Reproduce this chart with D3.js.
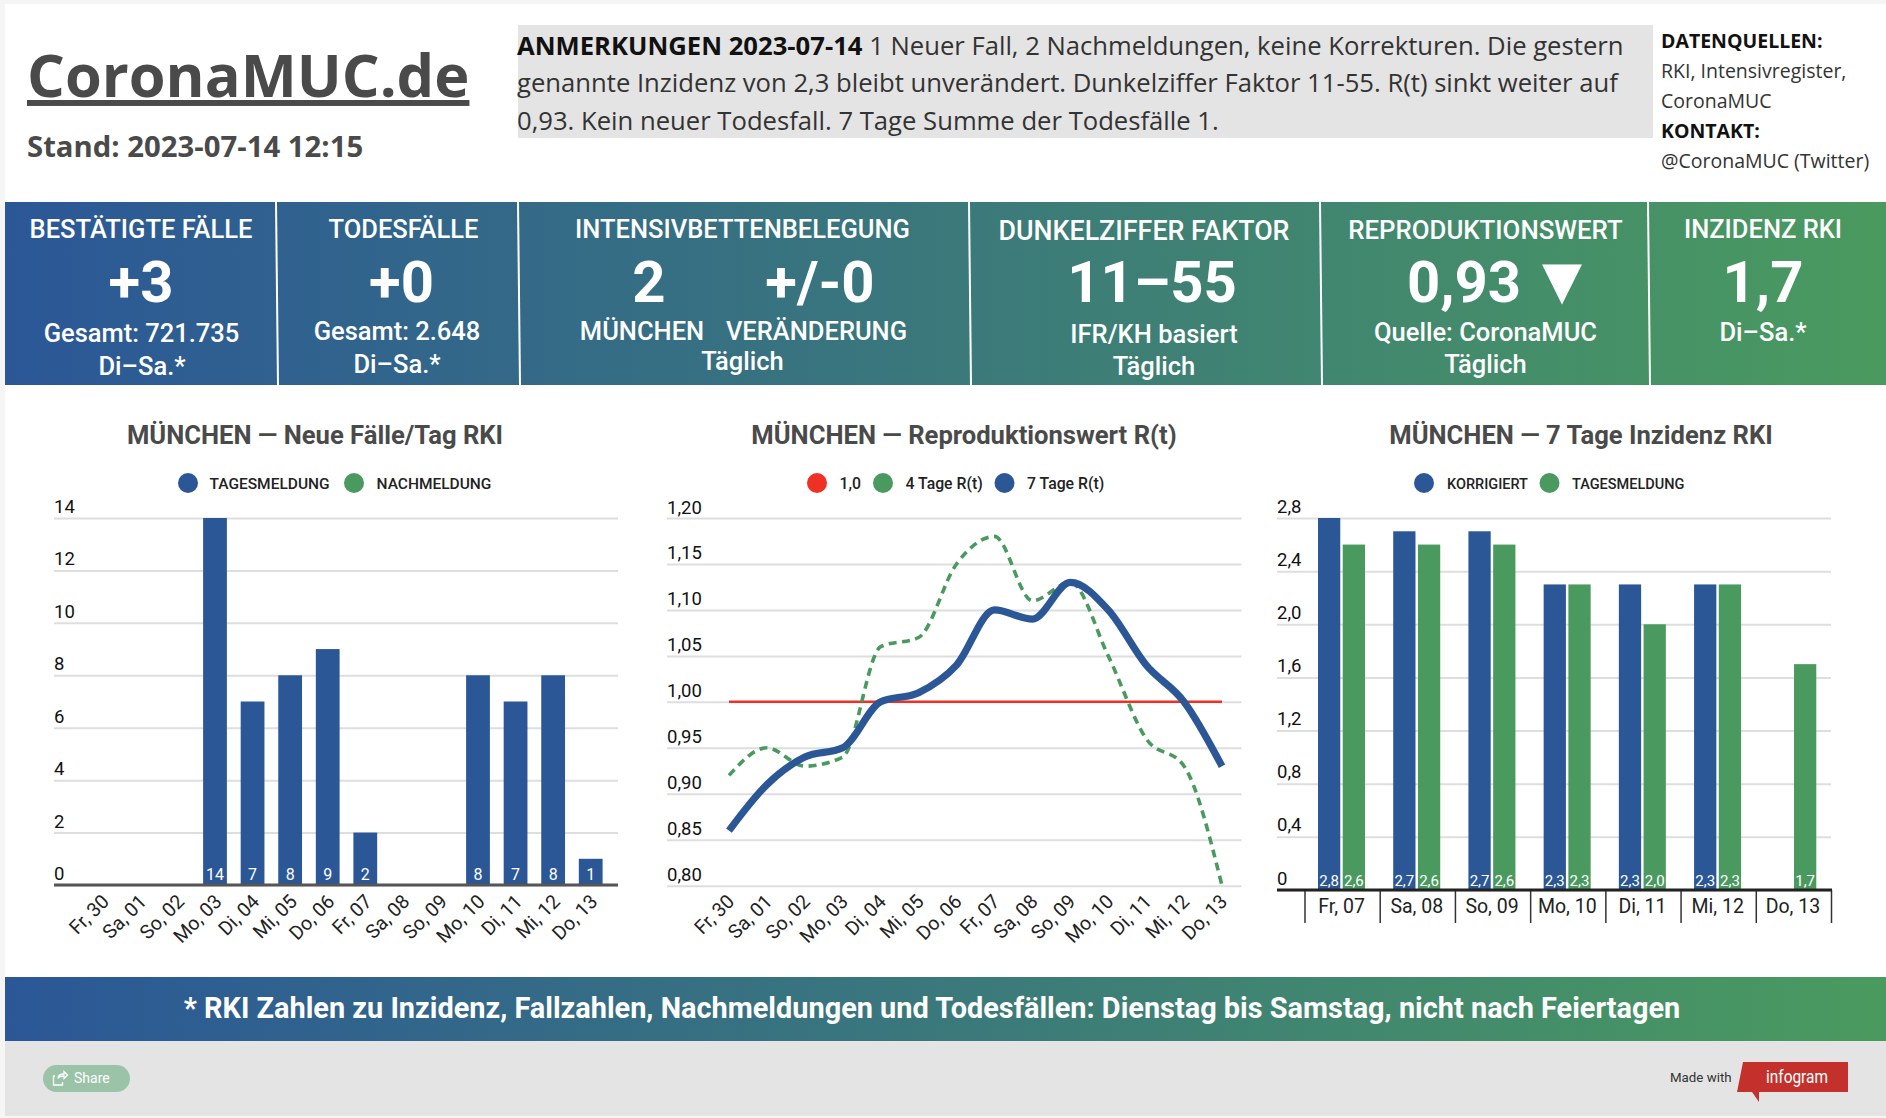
<!DOCTYPE html>
<html lang="de">
<head>
<meta charset="utf-8">
<title>CoronaMUC.de</title>
<script src="https://cdn.jsdelivr.net/npm/d3@7"></script>
<style>
  html, body { margin: 0; padding: 0; background: #f5f5f5; overflow: hidden; }
  svg { display: block; }
  text { font-family: Roboto, sans-serif; }
</style>
</head>
<body>
<script>
// donnees
const tage14 = ["Fr, 30", "Sa, 01", "So, 02", "Mo, 03", "Di, 04", "Mi, 05", "Do, 06", "Fr, 07", "Sa, 08", "So, 09", "Mo, 10", "Di, 11", "Mi, 12", "Do, 13"];
const tagesmeldung = [0, 0, 0, 14, 7, 8, 9, 2, 0, 0, 8, 7, 8, 1];
const nachmeldung = [0, 0, 0, 0, 0, 0, 0, 0, 0, 0, 0, 0, 0, 0];
const faelleTicks = [0, 2, 4, 6, 8, 10, 12, 14];

const rEins = [1, 1, 1, 1, 1, 1, 1, 1, 1, 1, 1, 1, 1, 1];
const rVierTage = [0.92, 0.95, 0.93, 0.94, 1.06, 1.07, 1.15, 1.18, 1.11, 1.13, 1.05, 0.96, 0.93, 0.80];
const rSiebenTage = [0.86, 0.91, 0.94, 0.95, 1.00, 1.01, 1.04, 1.10, 1.09, 1.13, 1.10, 1.04, 1.00, 0.93];
const rTicks = [0.80, 0.85, 0.90, 0.95, 1.00, 1.05, 1.10, 1.15, 1.20];

const tage7 = ["Fr, 07", "Sa, 08", "So, 09", "Mo, 10", "Di, 11", "Mi, 12", "Do, 13"];
const inzKorrigiert = [2.8, 2.7, 2.7, 2.3, 2.3, 2.3, null];
const inzTagesmeldung = [2.6, 2.6, 2.6, 2.3, 2.0, 2.3, 1.7];
const inzTicks = [0, 0.4, 0.8, 1.2, 1.6, 2.0, 2.4, 2.8];

const BLAU = "#2b5797";
const GRUEN = "#4a9a5f";
const ROT = "#ee3124";
const GRAU = "#4a4a4a";
const OPEN = "'Open Sans', sans-serif";

const de = d3.formatLocale({ decimal: ",", thousands: ".", grouping: [3], currency: ["", "€"] });

const svg = d3.select("body").append("svg")
  .attr("width", 1886)
  .attr("height", 1118);

const defs = svg.append("defs");
const grad = defs.append("linearGradient")
  .attr("id", "verlauf")
  .attr("gradientUnits", "userSpaceOnUse")
  .attr("x1", 5).attr("x2", 1886).attr("y1", 0).attr("y2", 0);
grad.append("stop").attr("offset", 0).attr("stop-color", BLAU);
grad.append("stop").attr("offset", 1).attr("stop-color", GRUEN);

function txt(x, y, s, o = {}) {
  return svg.append("text")
    .attr("x", x).attr("y", y)
    .attr("text-anchor", o.anchor || "middle")
    .attr("font-size", o.size || 25.5)
    .attr("font-weight", o.weight || 500)
    .attr("fill", o.fill || "#fff")
    .style("font-family", o.family || null)
    .text(s);
}

// Le fond
svg.append("rect").attr("x", 5).attr("y", 4).attr("width", 1881).attr("height", 1037).attr("fill", "#fff");
svg.append("rect").attr("x", 5).attr("y", 1041).attr("width", 1881).attr("height", 75).attr("fill", "#e4e4e4");

// en-tete
txt(27, 97, "CoronaMUC.de", { anchor: "start", size: 59.5, weight: 700, fill: GRAU, family: OPEN })
  .attr("text-decoration", "underline");
txt(27, 157, "Stand: 2023-07-14 12:15", { anchor: "start", size: 29.3, weight: 700, fill: GRAU, family: OPEN });

const ANM = { anchor: "start", size: 25.65, weight: 400, fill: "#333", family: OPEN };
svg.append("rect").attr("x", 518).attr("y", 25).attr("width", 1135).attr("height", 113).attr("fill", "#e4e4e4");
const anm = txt(517, 55, "", ANM);
anm.append("tspan").attr("font-weight", 700).attr("fill", "#111").text("ANMERKUNGEN 2023-07-14");
anm.append("tspan").text(" 1 Neuer Fall, 2 Nachmeldungen, keine Korrekturen. Die gestern");
txt(517, 92, "genannte Inzidenz von 2,3 bleibt unverändert. Dunkelziffer Faktor 11-55. R(t) sinkt weiter auf", ANM);
txt(517, 130, "0,93. Kein neuer Todesfall. 7 Tage Summe der Todesfälle 1.", ANM);

const QUELLE = { anchor: "start", size: 19.5, weight: 400, fill: "#333", family: OPEN };
const QUELLE_B = { anchor: "start", size: 19.5, weight: 700, fill: "#111", family: OPEN };
txt(1661, 48, "DATENQUELLEN:", QUELLE_B);
txt(1661, 78, "RKI, Intensivregister,", QUELLE);
txt(1661, 108, "CoronaMUC", QUELLE);
txt(1661, 138, "KONTAKT:", QUELLE_B);
txt(1661, 168, "@CoronaMUC (Twitter)", QUELLE);

// bandeau des chiffres
svg.append("rect").attr("x", 5).attr("y", 202).attr("width", 1881).attr("height", 183).attr("fill", "url(#verlauf)");
[[276, 278], [518, 520], [969, 971], [1320, 1322], [1648, 1650]].forEach(d => {
  svg.append("line")
    .attr("x1", d[0]).attr("x2", d[1]).attr("y1", 202).attr("y2", 385)
    .attr("stroke", "#fff").attr("stroke-width", 2);
});

const GROSS = { size: 58, weight: 700 };

txt(141, 238, "BESTÄTIGTE FÄLLE");
txt(141, 302, "+3", GROSS);
txt(141.5, 342, "Gesamt: 721.735");
txt(142, 374.5, "Di–Sa.*");

txt(403.5, 238, "TODESFÄLLE");
txt(401.5, 302, "+0", GROSS);
txt(397, 340, "Gesamt: 2.648");
txt(397, 372.5, "Di–Sa.*");

txt(742.5, 238, "INTENSIVBETTENBELEGUNG");
txt(649, 302, "2", GROSS);
txt(820, 302, "+/-0", GROSS);
txt(642, 340, "MÜNCHEN");
txt(816.5, 340, "VERÄNDERUNG");
txt(742.5, 370, "Täglich");

txt(1144, 240, "DUNKELZIFFER FAKTOR", { size: 26.8 });
txt(1152, 302, "11–55", GROSS);
txt(1154, 342.5, "IFR/KH basiert");
txt(1154, 374.5, "Täglich");

txt(1485.5, 239, "REPRODUKTIONSWERT", { size: 25.8 });
txt(1464, 302, "0,93", GROSS);
txt(1562, 298, "▼", { size: 52, weight: 400, family: "'DejaVu Sans', sans-serif" });
txt(1485.5, 341, "Quelle: CoronaMUC");
txt(1485.5, 373, "Täglich");

txt(1763, 238, "INZIDENZ RKI");
txt(1763, 302, "1,7", GROSS);
txt(1763, 341, "Di–Sa.*");

// legendes
function legende(items, y) {
  items.forEach(d => {
    svg.append("circle").attr("cx", d.cx).attr("cy", y).attr("r", 10).attr("fill", d.farbe);
    txt(d.tx, y + 5.5, d.label, { anchor: "start", size: d.size || 15.5, fill: "#222" });
  });
}

function gitter(y, ticks, fmt, links, rechts, hoch) {
  const g = svg.append("g")
    .attr("transform", `translate(${links},0)`)
    .call(d3.axisRight(y).tickValues(ticks).tickSize(rechts - links).tickFormat(fmt));
  g.select(".domain").remove();
  g.selectAll("line").attr("stroke", "#dedede").attr("stroke-width", 2);
  g.selectAll("text")
    .attr("x", 0).attr("y", -hoch).attr("dy", 0)
    .attr("text-anchor", "start")
    .attr("font-size", 18.5)
    .attr("fill", "#111")
    .style("font-family", "Roboto, sans-serif");
  return g;
}

function tageAchse(x, yPos, dx) {
  const g = svg.append("g")
    .attr("transform", `translate(0,${yPos})`)
    .call(d3.axisBottom(x).tickSize(0));
  g.select(".domain").remove();
  g.selectAll("text")
    .attr("x", 0).attr("y", 0).attr("dy", 0)
    .attr("text-anchor", "end")
    .attr("transform", `translate(${dx},17) rotate(-45)`)
    .attr("font-size", 19.5)
    .attr("fill", "#222")
    .style("font-family", "Roboto, sans-serif");
}

// MUNCHEN : nouveaux cas
txt(315, 443.5, "MÜNCHEN — Neue Fälle/Tag RKI", { size: 25.6, weight: 700, fill: GRAU });
legende([
  { cx: 188, tx: 209.5, label: "TAGESMELDUNG", farbe: BLAU },
  { cx: 354, tx: 376.5, label: "NACHMELDUNG", farbe: GRUEN }
], 483);

const yFaelle = d3.scaleLinear().domain([0, 14]).range([885, 518]);
const xFaelle = d3.scaleBand().domain(tage14).range([83.5, 609.5]).paddingInner(0.367).paddingOuter(0.1835);
gitter(yFaelle, faelleTicks, d3.format("d"), 54, 618, 5.5);

const stapel = d3.stack().keys(["t", "n"])(tage14.map((tag, i) => ({ tag, t: tagesmeldung[i], n: nachmeldung[i] })));
svg.append("g").selectAll("g")
  .data(stapel)
  .join("g")
  .attr("fill", (d, i) => i === 0 ? BLAU : GRUEN)
  .selectAll("rect")
  .data(d => d)
  .join("rect")
  .attr("x", d => xFaelle(d.data.tag))
  .attr("width", xFaelle.bandwidth())
  .attr("y", d => yFaelle(d[1]))
  .attr("height", d => yFaelle(d[0]) - yFaelle(d[1]));

svg.append("g").selectAll("text")
  .data(tage14.filter((d, i) => tagesmeldung[i] > 0))
  .join("text")
  .attr("x", d => xFaelle(d) + xFaelle.bandwidth() / 2)
  .attr("y", 880)
  .attr("text-anchor", "middle")
  .attr("font-size", 16)
  .attr("fill", "#fff")
  .text(d => tagesmeldung[tage14.indexOf(d)]);

svg.append("line")
  .attr("x1", 54).attr("x2", 618).attr("y1", yFaelle(0)).attr("y2", yFaelle(0))
  .attr("stroke", "#555").attr("stroke-width", 3);
tageAchse(xFaelle, 885.7, 8);

// MUNCHEN : R(t)
txt(964, 443.5, "MÜNCHEN — Reproduktionswert R(t)", { size: 25.6, weight: 700, fill: GRAU });
legende([
  { cx: 817, tx: 839.5, label: "1,0", farbe: ROT, size: 15.8 },
  { cx: 883, tx: 905.5, label: "4 Tage R(t)", farbe: GRUEN, size: 15.8 },
  { cx: 1004.5, tx: 1027, label: "7 Tage R(t)", farbe: BLAU, size: 15.8 }
], 483);

const yR = d3.scaleLinear().domain([0.8, 1.2]).range([885.7, 518]);
const xR = d3.scalePoint().domain(tage14).range([729, 1222]);
gitter(yR, rTicks, de.format(".2f"), 667, 1241.5, 5);

const linie = d3.line()
  .x((d, i) => xR(tage14[i]))
  .y(d => yR(d))
  .curve(d3.curveMonotoneX);

svg.append("path").attr("d", linie(rEins)).attr("fill", "none").attr("stroke", ROT).attr("stroke-width", 2.5);
svg.append("path").attr("d", linie(rVierTage)).attr("fill", "none").attr("stroke", GRUEN).attr("stroke-width", 3.6).attr("stroke-dasharray", "8,5.5");
svg.append("path").attr("d", linie(rSiebenTage)).attr("fill", "none").attr("stroke", BLAU).attr("stroke-width", 7.2);
tageAchse(xR, 885.7, 6);

// MUNCHEN : incidence 7 jours
txt(1581, 443.5, "MÜNCHEN — 7 Tage Inzidenz RKI", { size: 25.6, weight: 700, fill: GRAU });
legende([
  { cx: 1424, tx: 1447, label: "KORRIGIERT", farbe: BLAU, size: 14.5 },
  { cx: 1549.5, tx: 1572, label: "TAGESMELDUNG", farbe: GRUEN, size: 14.5 }
], 483);

const yInz = d3.scaleLinear().domain([0, 2.8]).range([890, 518]);
const xInz = d3.scaleBand().domain(tage7).range([1305, 1831.5]);
const xReihe = d3.scaleBand().domain([0, 1]).range([13, 60]).paddingInner(0.1);
gitter(yInz, inzTicks, d => d === 0 ? "0" : de.format(".1f")(d), 1277, 1831, 6);

[inzKorrigiert, inzTagesmeldung].forEach((reihe, r) => {
  const werte = tage7.map((tag, i) => ({ tag, wert: reihe[i] })).filter(d => d.wert !== null);
  svg.append("g").selectAll("rect")
    .data(werte)
    .join("rect")
    .attr("x", d => xInz(d.tag) + xReihe(r))
    .attr("width", xReihe.bandwidth())
    .attr("y", d => yInz(d.wert))
    .attr("height", d => yInz(0) - yInz(d.wert))
    .attr("fill", r === 0 ? BLAU : GRUEN);
  svg.append("g").selectAll("text")
    .data(werte)
    .join("text")
    .attr("x", d => xInz(d.tag) + xReihe(r) + xReihe.bandwidth() / 2)
    .attr("y", 885.5)
    .attr("text-anchor", "middle")
    .attr("font-size", 15)
    .attr("fill", "#fff")
    .text(d => de.format(".1f")(d.wert));
});

const achseInz = svg.append("g")
  .attr("transform", `translate(-1,${yInz(0)})`)
  .call(d3.axisBottom(xInz).tickSize(0));
achseInz.select(".domain").remove();
achseInz.selectAll("text")
  .attr("y", 23).attr("dy", 0)
  .attr("font-size", 19.5)
  .attr("fill", "#222")
  .style("font-family", "Roboto, sans-serif");
svg.append("g").selectAll("line")
  .data([...tage7.map(d => xInz(d)), xInz.range()[1]])
  .join("line")
  .attr("x1", d => d).attr("x2", d => d)
  .attr("y1", yInz(0)).attr("y2", 923)
  .attr("stroke", "#333").attr("stroke-width", 1.5);
svg.append("line")
  .attr("x1", 1277).attr("x2", 1832).attr("y1", yInz(0)).attr("y2", yInz(0))
  .attr("stroke", "#222").attr("stroke-width", 3);

// bas de page
svg.append("rect").attr("x", 5).attr("y", 977).attr("width", 1881).attr("height", 64).attr("fill", "url(#verlauf)");
txt(932, 1017.5, "* RKI Zahlen zu Inzidenz, Fallzahlen, Nachmeldungen und Todesfällen: Dienstag bis Samstag, nicht nach Feiertagen", { size: 28.9, weight: 700 });

svg.append("rect").attr("x", 43).attr("y", 1065).attr("width", 87).attr("height", 27).attr("rx", 13.5).attr("fill", "#9ac3a8");
svg.append("path")
  .attr("d", "M55 1076h-1.5v9h9v-3M58 1078.5c0-3 2-4.5 6-4.5v-2.5l3.5 3.5-3.5 3.5v-2.5c-3 0-5 .5-6 2.5z")
  .attr("fill", "none").attr("stroke", "#fff").attr("stroke-width", 1.3);
txt(74, 1083, "Share", { anchor: "start", size: 14, weight: 400, fill: "#fff" });

txt(1670, 1082, "Made with", { anchor: "start", size: 13.3, weight: 400, fill: "#333" });
svg.append("path").attr("d", "M1743 1062H1848V1092H1759L1759 1102L1752 1092H1737Z").attr("fill", "#c4302b");
txt(1797, 1083, "infogram", { size: 18, weight: 400, fill: "#fff" })
  .attr("textLength", 62).attr("lengthAdjust", "spacingAndGlyphs");
</script>
</body>
</html>
